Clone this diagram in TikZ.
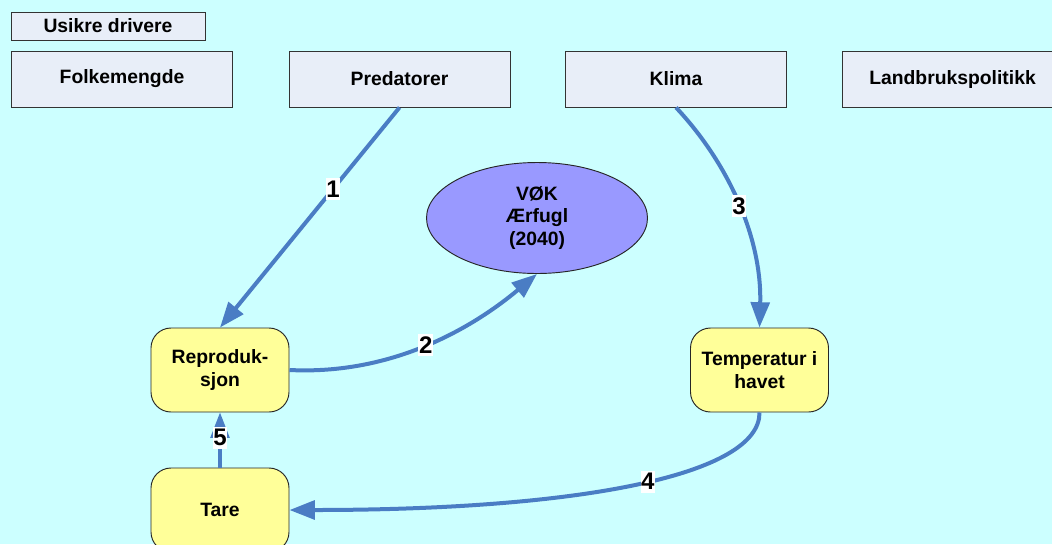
\documentclass[tikz,border=0pt]{standalone}
\usepackage{fontspec}
\setmainfont{Liberation Sans}
\usetikzlibrary{arrows.meta,shapes.geometric}
\definecolor{bgcol}{HTML}{CCFFFF}
\definecolor{boxfill}{HTML}{E8EEF8}
\definecolor{ellfill}{HTML}{9999FF}
\definecolor{yelfill}{HTML}{FFFF99}
\definecolor{arrcol}{HTML}{4A7DC4}
\begin{document}
\begin{tikzpicture}[x=0.75pt,y=-0.75pt,
  txt/.style={font=\bfseries\fontsize{14.5}{17}\selectfont, align=center},
  drvbox/.style={txt, draw=black!80, line width=0.7pt, fill=boxfill,
    minimum width=165.75pt, minimum height=42pt, inner sep=0pt},
  titlebox/.style={txt, draw=black!80, line width=0.7pt, fill=boxfill,
    minimum width=145.5pt, minimum height=21pt, inner sep=0pt},
  ellnode/.style={txt, ellipse, draw=black!85, line width=0.7pt, fill=ellfill,
    minimum width=165.75pt, minimum height=83.25pt, inner sep=0pt},
  yelbox/.style={txt, draw=black!85, line width=0.7pt, fill=yelfill,
    rounded corners=15pt, minimum width=103.5pt, minimum height=63pt, inner sep=0pt},
  conn/.style={draw=arrcol, line width=3pt, -{Triangle[length=19pt,width=14pt]}},
  lbl/.style={font=\bfseries\fontsize{18}{18}\selectfont, fill=white, inner xsep=0.5pt, inner ysep=2pt, text=black}
]
\useasboundingbox (0,0) rectangle (1052,544);
\clip (0,0) rectangle (1052,544);
\fill[bgcol] (0,0) rectangle (1052,544);

\node[titlebox] (usikre) at (108,26) {Usikre drivere};
\node[drvbox] (folk) at (122,79) {Folkemengde};
\node[drvbox] (pred) at (399.5,79) {Predatorer};
\node[drvbox] (klima) at (676,79) {Klima};
\node[drvbox] (land) at (952.5,79) {Landbrukspolitikk};

\node[ellnode] (vok) at (537,218) {VØK\\Ærfugl\\(2040)};
\node[yelbox] (repro) at (220,370) {Reproduk-\\sjon};
\node[yelbox] (temp) at (759.5,370) {Temperatur i\\havet};
\node[yelbox] (tare) at (220,510) {Tare};

\draw[conn] (pred.south) -- node[lbl,pos=0.37] {1} (repro.north);
\draw[conn] (repro.east) .. controls (390,375) and (470,330) .. node[lbl,pos=0.5] {2} (vok.south);
\draw[conn] (klima.south) .. controls (730,165) and (762,240) .. node[lbl,pos=0.5] {3} (temp.north);
\draw[conn] (temp.south) .. controls (760,475) and (580,510) .. node[lbl,pos=0.47] {4} (tare.east);
\draw[conn, line width=2.5pt] (tare.north) -- node[lbl,pos=0.54] {5} (repro.south);
\end{tikzpicture}
\end{document}
